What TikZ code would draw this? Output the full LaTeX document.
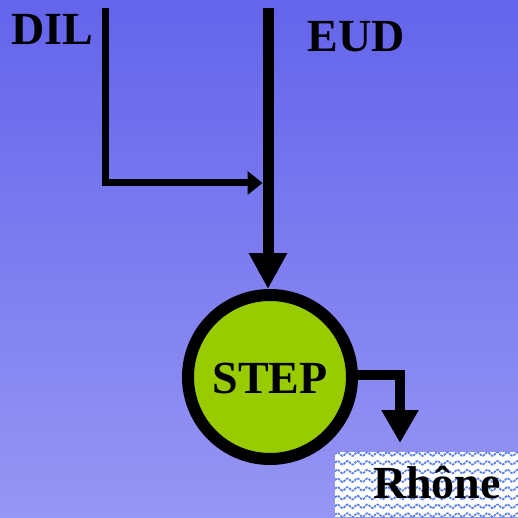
\documentclass[tikz,border=0pt]{standalone}
\usepackage{fontspec}
\setmainfont{Liberation Serif}
\usetikzlibrary{arrows.meta}
\definecolor{bgtop}{RGB}{100,100,236}
\definecolor{bgbot}{RGB}{150,150,244}
\definecolor{stepgreen}{RGB}{153,204,0}
\definecolor{wavecol}{RGB}{85,125,240}
\tikzset{
	lab/.style={font=\fontsize{46}{50}\selectfont\bfseries,inner sep=0pt,anchor=base},
	flow/.style={line width=#1,-{Triangle[length=36pt,width=36pt]}},
	wave/.style={wavecol,line width=1.7pt,dash pattern=on 2.5pt off 1pt}
}
\begin{document}
\begin{tikzpicture}[x=1pt,y=1pt]
		\useasboundingbox (0,0) rectangle (518,517);
		\shade[top color=bgtop,bottom color=bgbot] (0,0) rectangle (518,517);
		% river box
		\node[fill=white,minimum width=183pt,minimum height=65pt,inner sep=0pt,anchor=south west] (rhonebox) at (335,0) {};
		\begin{scope}
		\clip (rhonebox.south west) rectangle (rhonebox.north east);
		\foreach \y in {2,10.7,...,64}
			\draw[wave] plot[domain=0:184,samples=150] ({335+\x},{\y+1.8*sin(36*\x)});
		\end{scope}
		\node[lab] (rhone) at (437,19) {Rhône};
		% labels and plant
		\node[lab] (dil) at (52,472) {DIL};
		\node[lab] (eud) at (356,465) {EUD};
		\node[circle,draw,line width=12pt,fill=stepgreen,minimum size=164pt,inner sep=0pt] (step) at (270,140) {};
		\node[lab] (steptxt) at (step.center) [yshift=-16pt] {STEP};
		\coordinate (diltop) at (105,509);
		\coordinate (dilbend) at (105,334);
		\coordinate (eudtop) at (268,509);
		\coordinate (outbend) at (400,142);
		\coordinate (rhonetip) at (400,74);
		\draw[line width=7pt,line join=miter,-{Triangle[length=15pt,width=23pt]}] (diltop) -- (dilbend) -- (dilbend -| {262.5,0});
		\draw[flow=11pt] (eudtop) -- (eudtop |- step.north);
		\draw[line width=10pt,line join=miter,-{Triangle[length=33pt,width=35pt]}] (step.east |- outbend) -- (outbend) -- (rhonetip);
		\end{tikzpicture}
\end{document}
